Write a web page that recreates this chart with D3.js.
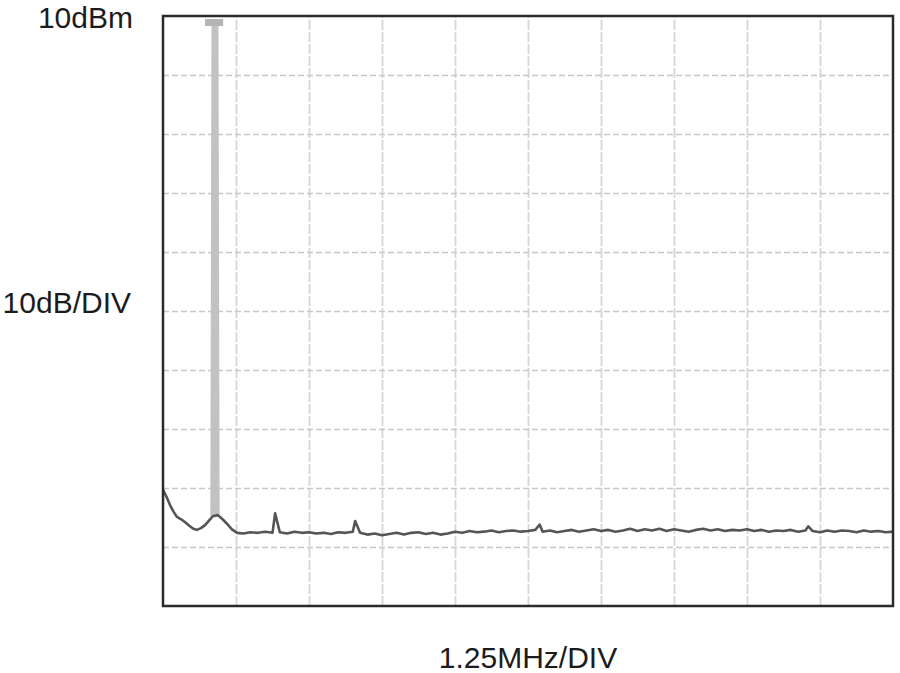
<!DOCTYPE html>
<html>
<head>
<meta charset="utf-8">
<script src="https://cdn.jsdelivr.net/npm/d3@7"></script>
<style>
  html, body { margin: 0; padding: 0; background: #fff; }
  svg { display: block; }
  text { font-family: "Liberation Sans", Arial, sans-serif; fill: #1c1c1c; }
</style>
</head>
<body>
<svg id="chart" width="900" height="673"></svg>
<script>
// ---- data (frequency in MHz from left edge, level in dBm) ----
const refLevelLabel = "10dBm";
const yScaleLabel = "10dB/DIV";
const xScaleLabel = "1.25MHz/DIV";

const xDivisions = d3.range(0, 12.5 + 0.001, 1.25);   // 10 divisions of 1.25MHz
const yDivisions = d3.range(-90, 10 + 0.001, 10);      // 10 divisions of 10dB

// low-frequency skirt (left of and around the carrier)
const skirtFreq  = [0, 0.06, 0.12, 0.18, 0.24, 0.31, 0.38, 0.45, 0.52, 0.58, 0.65, 0.72, 0.78, 0.85, 0.94, 1.02, 1.10, 1.18, 1.27];
const skirtLevel = [-70.3, -71.5, -72.9, -74.0, -74.9, -75.3, -75.8, -76.4, -76.9, -77.1, -76.8, -76.3, -75.6, -74.8, -74.6, -75.3, -76.1, -77.0, -77.6];

// noise floor, one reading every 0.125MHz from 1.375MHz to 12.5MHz
const floorLevel = [
  -77.7, -77.5, -77.6, -77.4, -77.6, -77.5, -77.7, -77.4, -77.6, -77.5,
  -77.7, -77.6, -77.8, -77.5, -77.6, -77.4, -77.6, -77.9, -77.7, -78.0,
  -77.8, -77.6, -77.9, -77.6, -77.5, -77.8, -77.6, -77.9, -77.7, -77.4,
  -77.6, -77.3, -77.5, -77.4, -77.2, -77.5, -77.3, -77.2, -77.4, -77.3,
  -77.1, -77.4, -77.2, -77.5, -77.3, -77.1, -77.4, -77.2, -77.0, -77.3,
  -77.1, -77.4, -77.2, -76.9, -77.3, -77.0, -77.2, -76.9, -77.3, -77.0,
  -77.2, -77.4, -77.1, -76.9, -77.2, -77.0, -77.3, -77.1, -77.2, -77.0,
  -77.3, -77.1, -77.4, -77.2, -77.3, -77.1, -77.4, -77.2, -77.3, -77.5,
  -77.2, -77.4, -77.2, -77.3, -77.5, -77.2, -77.4, -77.3, -77.5, -77.4
];
const floorStartFreq = 1.375;
const floorStepFreq = 0.125;

// small spurs on the noise floor
const spurFreq  = [1.92, 3.29, 6.45, 11.05];
const spurLevel = [-74.3, -75.6, -76.2, -76.5];

// carrier
const peakFreq  = [0.87, 0.89, 0.91];
const peakLevel = [-74.7, 9.3, -74.6];
const capFreq   = [0.72, 1.03];
const capLevel  = [8.9, 8.9];

// ---- layout ----
const svg = d3.select("#chart");
const margin = { left: 163, top: 16, right: 7, bottom: 67 };
const W = 900 - margin.left - margin.right;   // 730
const H = 673 - margin.top - margin.bottom;   // 590

const x = d3.scaleLinear().domain([0, 12.5]).range([0, W]);
const y = d3.scaleLinear().domain([-90, 10]).range([H, 0]);

const g = svg.append("g").attr("transform", `translate(${margin.left},${margin.top})`);

// grid (vertical)
const gx = g.append("g")
  .attr("transform", `translate(0,${H})`)
  .call(d3.axisBottom(x).tickValues(xDivisions.slice(1, -1)).tickSize(-H).tickFormat(""));
gx.select(".domain").remove();
gx.selectAll("line").attr("stroke", "#d6d6d6").attr("stroke-width", 1.8).attr("stroke-dasharray", "10,2");

// grid (horizontal)
const gy = g.append("g")
  .call(d3.axisLeft(y).tickValues(yDivisions.slice(1, -1)).tickSize(-W).tickFormat(""));
gy.select(".domain").remove();
gy.selectAll("line").attr("stroke", "#c8c8c8").attr("stroke-width", 1.6).attr("stroke-dasharray", "6,3");

// build the trace
const skirt = skirtFreq.map((f, i) => ({ f, v: skirtLevel[i] }));
const floor = floorLevel.map((v, i) => ({ f: floorStartFreq + i * floorStepFreq, v }));
const spurs = spurFreq.map((f, i) => ({ f, v: spurLevel[i] }));
const trace = skirt.concat(floor, spurs).sort((a, b) => a.f - b.f);

const line = d3.line().x(d => x(d.f)).y(d => y(d.v));

// carrier (light, fast-swept)
const peak = peakFreq.map((f, i) => ({ f, v: peakLevel[i] }));
g.append("path").datum(peak)
  .attr("d", line).attr("fill", "none")
  .attr("stroke", "#c2c2c2").attr("stroke-width", 7).attr("stroke-linejoin", "miter");
const cap = capFreq.map((f, i) => ({ f, v: capLevel[i] }));
g.append("path").datum(cap)
  .attr("d", line).attr("fill", "none")
  .attr("stroke", "#b4b4b4").attr("stroke-width", 7);

// main trace
g.append("path").datum(trace)
  .attr("d", line).attr("fill", "none")
  .attr("stroke", "#555").attr("stroke-width", 2.6)
  .attr("stroke-linejoin", "round");

// frame
g.append("rect").attr("x", 0).attr("y", 0).attr("width", W).attr("height", H)
  .attr("fill", "none").attr("stroke", "#2a2a2a").attr("stroke-width", 2.5);

// labels
svg.append("text").attr("x", 133).attr("y", 28).attr("text-anchor", "end")
  .attr("font-size", 30).text(refLevelLabel);
svg.append("text").attr("x", 131).attr("y", 313).attr("text-anchor", "end")
  .attr("font-size", 30).text(yScaleLabel);
svg.append("text").attr("x", margin.left + W / 2).attr("y", 668).attr("text-anchor", "middle")
  .attr("font-size", 30).text(xScaleLabel);
</script>
</body>
</html>
